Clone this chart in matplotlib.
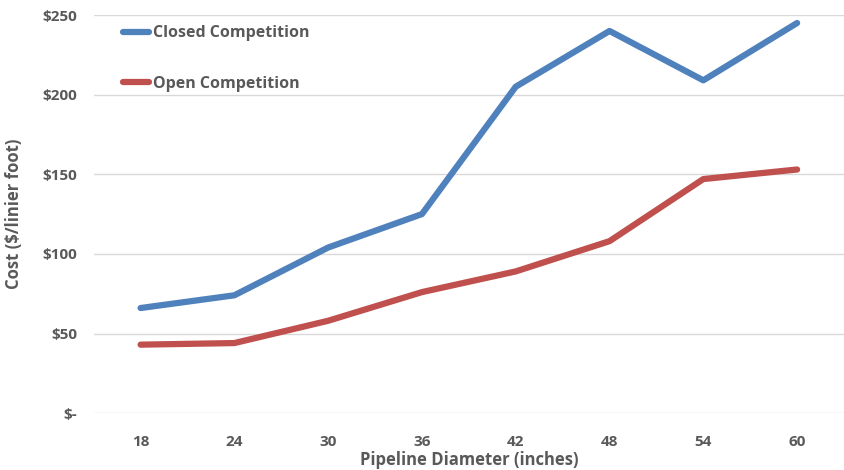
import matplotlib.pyplot as plt
from matplotlib.ticker import FuncFormatter

diameters = ["18", "24", "30", "36", "42", "48", "54", "60"]
closed_cost = [66, 74, 104, 125, 205, 240, 209, 245]
open_cost = [43, 44, 58, 76, 89, 108, 147, 153]

grey = "#595959"
plt.rcParams["font.family"] = ["Open Sans", "DejaVu Sans"]

fig = plt.figure(figsize=(8.44, 4.70), dpi=100)
ax = fig.add_axes([0.111, 0.121, 0.889, 0.847])

x = range(len(diameters))
ax.plot(x, closed_cost, color="#4F81BD", lw=4.5, solid_capstyle="round",
        solid_joinstyle="round", label="Closed Competition")
ax.plot(x, open_cost, color="#C0504D", lw=4.5, solid_capstyle="round",
        solid_joinstyle="round", label="Open Competition")

ax.set_xlim(-0.5, len(diameters) - 0.5)
ax.set_ylim(0, 250)
ax.set_yticks(range(0, 251, 50))
ax.yaxis.set_major_formatter(FuncFormatter(lambda v, p: "$-" if v == 0 else f"${v:.0f}"))
ax.set_xticks(list(x))
ax.set_xticklabels(diameters)
ax.grid(axis="y", color="#d9d9d9", lw=1)
ax.set_axisbelow(True)
for s in ax.spines.values():
    s.set_visible(False)
ax.tick_params(axis="x", length=0, labelsize=11, colors=grey, pad=16)
ax.tick_params(axis="y", length=0, labelsize=11, colors=grey, pad=12)
for lab in ax.get_xticklabels() + ax.get_yticklabels():
    lab.set_fontweight("bold")

ax.set_xlabel("Pipeline Diameter (inches)", fontsize=12, color=grey,
              fontweight="bold", labelpad=1)
ax.set_ylabel("Cost ($/linier foot)", fontsize=12, color=grey,
              fontweight="bold", labelpad=14)

leg = ax.legend(loc="upper left", bbox_to_anchor=(0.02, 1.01), frameon=False,
                handlelength=1.6, handletextpad=0.3, labelspacing=2.15,
                prop={"size": 11.5, "weight": "bold"})
for t in leg.get_texts():
    t.set_color(grey)

fig.savefig("out.png", dpi=100)
